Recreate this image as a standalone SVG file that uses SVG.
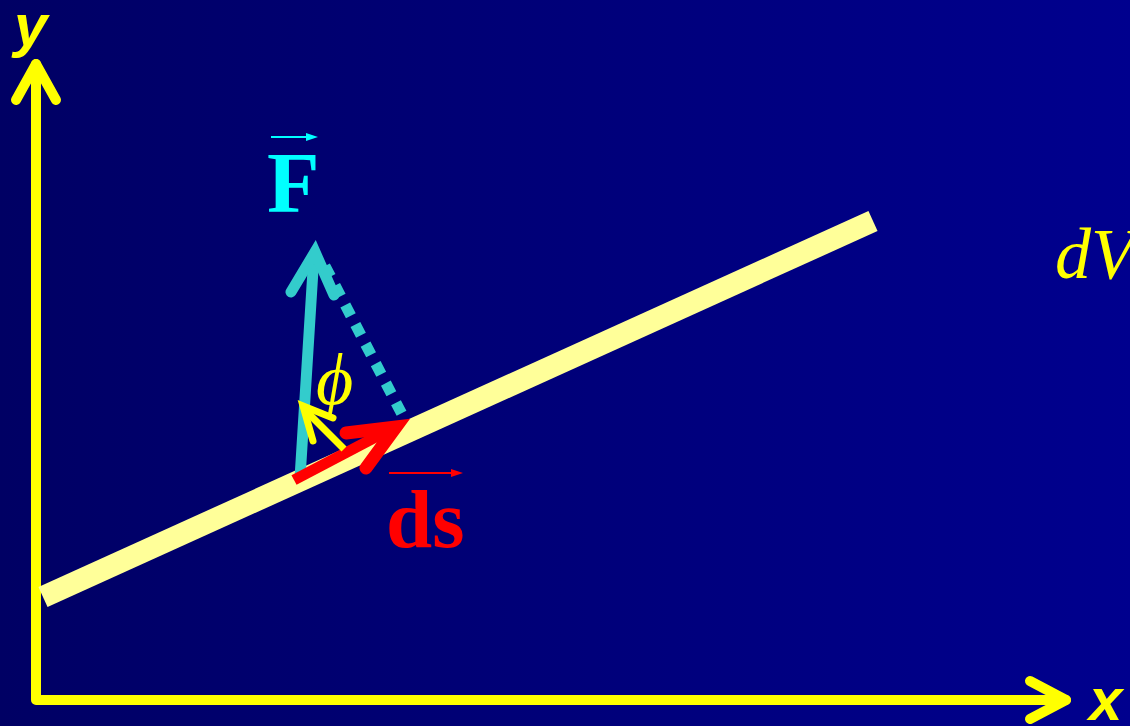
<svg xmlns="http://www.w3.org/2000/svg" width="1130" height="726" viewBox="0 0 1130 726">
<defs>
<linearGradient id="bg" x1="0" y1="0" x2="1" y2="0">
<stop offset="0" stop-color="#000064"/>
<stop offset="1" stop-color="#00008E"/>
</linearGradient>
<style>
.axis{stroke:#FFFF00;stroke-width:10;fill:none;stroke-linecap:round;stroke-linejoin:round}
.axl{font-family:"Liberation Sans",Arial,sans-serif;font-weight:bold;font-style:italic;fill:#FFFF00;font-size:60px}
.vec{font-family:"Liberation Serif","Times New Roman",serif;font-weight:bold}
</style>
</defs>
<rect width="1130" height="726" fill="url(#bg)"/>
<g id="axes">
<polyline class="axis" points="36,64 36,700 1066,700"/>
<polyline class="axis" points="16,100 36,64 56,100"/>
<polyline class="axis" points="1030,681 1066,700 1030,719"/>
<text class="axl" x="14" y="46">y</text>
<text class="axl" x="1089" y="720">x</text>
</g>
<g id="incline">
<line x1="43" y1="597" x2="873" y2="221" stroke="#FFFF99" stroke-width="22"/>
</g>
<g id="dV">
<text x="1055" y="278" font-family="'Liberation Serif','Times New Roman',serif" font-style="italic" font-size="72" fill="#FFFF00">dV</text>
</g>
<g id="connectors">
<line x1="325" y1="266" x2="405" y2="420" stroke="#33CCCC" stroke-width="11" stroke-dasharray="12,10"/>
<line x1="300" y1="478" x2="314" y2="254" stroke="#33CCCC" stroke-width="11" stroke-linecap="butt"/>
<polyline points="291,292 315,252 334,295" stroke="#33CCCC" stroke-width="11" fill="none" stroke-linecap="round" stroke-linejoin="miter"/>
<line x1="294" y1="480" x2="393" y2="428" stroke="#FF0000" stroke-width="11"/>
<polyline points="346,433 396,427 366,468" stroke="#FF0000" stroke-width="13" fill="none" stroke-linecap="round" stroke-linejoin="miter"/>
<line x1="344" y1="449" x2="306" y2="411" stroke="#FFFF00" stroke-width="7"/>
<polyline points="333,418 303,406 313,441" stroke="#FFFF00" stroke-width="7" fill="none" stroke-linecap="round"/>
</g>
<g id="F">
<text class="vec" x="267" y="212" font-size="86" fill="#00FFFF">F</text>
<line x1="271" y1="137" x2="312" y2="137" stroke="#00FFFF" stroke-width="2"/>
<polygon points="318,137 306,133 306,141" fill="#00FFFF"/>
</g>
<g id="ds">
<text class="vec" x="386" y="547" font-size="83" fill="#FF0000">ds</text>
<line x1="389" y1="473" x2="456" y2="473" stroke="#FF0000" stroke-width="2"/>
<polygon points="463,473 451,469 451,477" fill="#FF0000"/>
</g>
<g id="phi">
<text x="316" y="404" font-family="'Liberation Serif','DejaVu Serif','Times New Roman',serif" font-style="italic" font-size="72" fill="#FFFF00">ϕ</text>
</g>
</svg>
